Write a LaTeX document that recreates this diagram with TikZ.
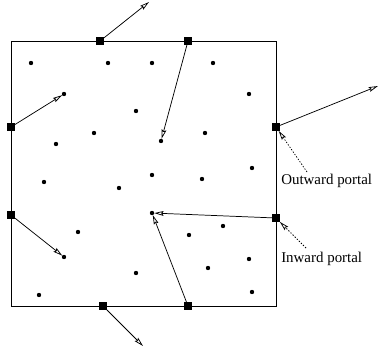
\documentclass[tikz,border=0pt]{standalone}
\usepackage{fontspec}
\setmainfont{Liberation Serif}
\usetikzlibrary{arrows.meta}
\begin{document}
\begin{tikzpicture}[x=0.75pt,y=-0.75pt,
  portal/.style={fill=black,draw=none,minimum width=5.8pt,minimum height=5.8pt,inner sep=0pt,outer sep=0pt},
  pt/.style={circle,fill=black,minimum size=3.3pt,inner sep=0pt,outer sep=0pt},
  arr/.style={line width=0.55pt,-{Stealth[open,length=7pt,width=3.6pt,inset=1pt]}},
  darr/.style={line width=0.55pt,dash pattern=on 1pt off 1.2pt,-{Stealth[open,length=7pt,width=3.6pt,inset=1pt]}},
  lbl/.style={anchor=west,inner sep=0pt,font=\fontsize{11.2}{13}\selectfont}]
\useasboundingbox (0,0) rectangle (379,354);
\draw[line width=0.7pt] (11,41) rectangle (276,306);
% portals
\node[portal] (pT1) at (100,41) {};
\node[portal] (pT2) at (188,41) {};
\node[portal] (pL1) at (11,127) {};
\node[portal] (pR1) at (276,127) {};
\node[portal] (pL2) at (11,215) {};
\node[portal] (pR2) at (276,218) {};
\node[portal] (pB1) at (103,306) {};
\node[portal] (pB2) at (188,306) {};
% dots
\foreach \x/\y/\n in {31/63/d1,108/63/d2,152/63/d3,213/63/d4,64/94/d5,249/94/d6,136/111/d7,94/133/d8,205/133/d9,56/144/d10,161/141/d11,252/168/d12,152/175/d13,44/182/d14,119/188/d15,202/179/d16,152/213/d17,78/232/d18,189/235/d19,223/226/d20,64/257/d21,249/259/d22,208/268/d23,136/273/d24,252/292/d25,39/295/d26}
  \node[pt] (\n) at (\x,\y) {};
% free ends
\coordinate (eT1) at (149,2);
\coordinate (eR1) at (378,86);
\coordinate (eB1) at (143,346);
% arrows
\draw[arr] (pT1) -- (eT1);
\draw[arr] (pT2) -- (d11);
\draw[arr] (pL1) -- (d5);
\draw[arr] (pR1) -- (eR1);
\draw[arr] (pL2) -- (d21);
\draw[arr] (pR2) -- (d17);
\draw[arr] (pB2) -- (d17);
\draw[arr] (pB1) -- (eB1);
% labels
\node[lbl] (lo) at (281,181) {Outward portal};
\node[lbl] (li) at (281,259) {Inward portal};
\coordinate (so) at (307,172);
\coordinate (si) at (306,248);
\draw[darr] (so) -- (pR1);
\draw[darr] (si) -- (pR2);
\end{tikzpicture}
\end{document}
